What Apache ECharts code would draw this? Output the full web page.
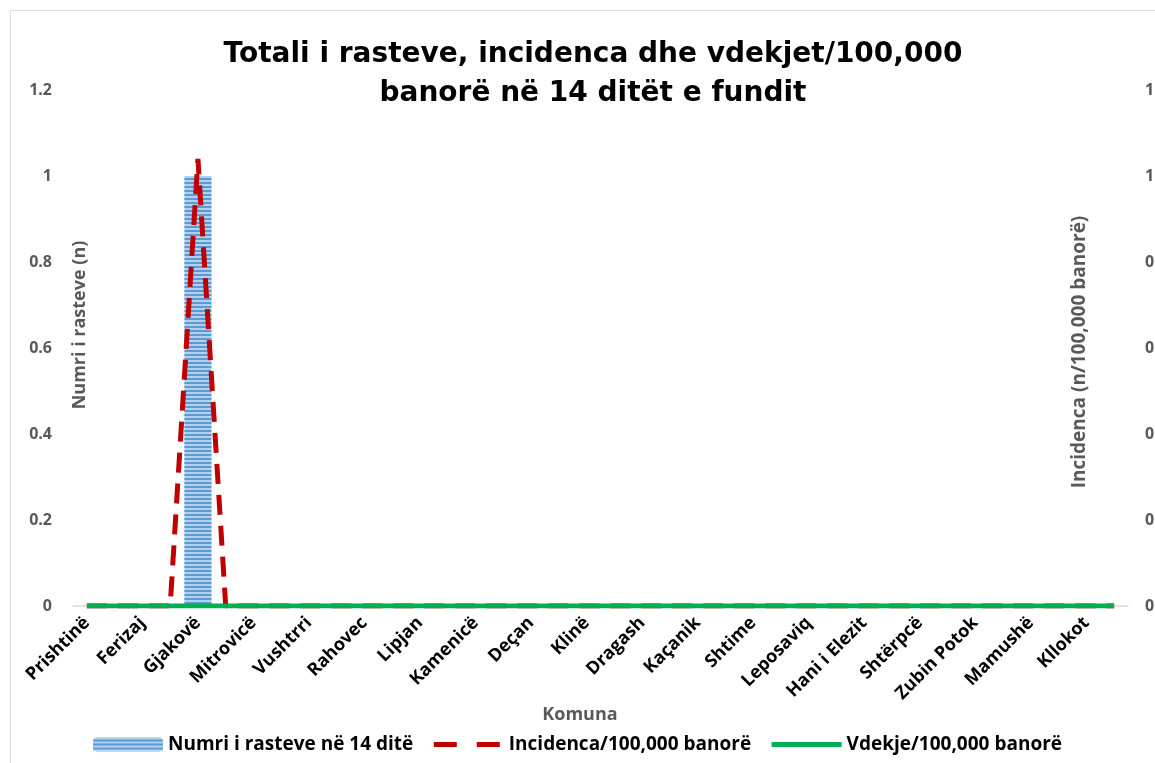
<!DOCTYPE html>
<html>
<head>
<meta charset="utf-8">
<script src="https://cdn.jsdelivr.net/npm/echarts@6/dist/echarts.min.js"></script>
<style>
  html, body { margin: 0; padding: 0; background: #fff; }
  #chart { width: 1155px; height: 763px; }
</style>
</head>
<body>
<div id="chart"></div>
<script>
// komunat (38), radha si ne grafik
const komunat = [
  'Prishtinë', 'Prizren', 'Ferizaj', 'Pejë', 'Gjakovë', 'Gjilan', 'Mitrovicë', 'Podujevë',
  'Vushtrri', 'Suharekë', 'Rahovec', 'Drenas', 'Lipjan', 'Malishevë', 'Kamenicë', 'Viti',
  'Deçan', 'Istog', 'Klinë', 'Skenderaj', 'Dragash', 'Fushë Kosovë', 'Kaçanik', 'Mitrovicë e Veriut',
  'Shtime', 'Obiliq', 'Leposaviq', 'Graçanicë', 'Hani i Elezit', 'Zveçan', 'Shtërpcë', 'Novobërdë',
  'Zubin Potok', 'Junik', 'Mamushë', 'Ranillug', 'Kllokot', 'Partesh'
]

const rastet = [
  0, 0, 0, 0, 1, 0, 0, 0, 0, 0, 0, 0, 0, 0, 0, 0, 0, 0, 0,
  0, 0, 0, 0, 0, 0, 0, 0, 0, 0, 0, 0, 0, 0, 0, 0, 0, 0, 0
]
const incidenca = [
  0, 0, 0, 0, 1.04, 0, 0, 0, 0, 0, 0, 0, 0, 0, 0, 0, 0, 0, 0,
  0, 0, 0, 0, 0, 0, 0, 0, 0, 0, 0, 0, 0, 0, 0, 0, 0, 0, 0
]
const vdekje = [
  0, 0, 0, 0, 0, 0, 0, 0, 0, 0, 0, 0, 0, 0, 0, 0, 0, 0, 0,
  0, 0, 0, 0, 0, 0, 0, 0, 0, 0, 0, 0, 0, 0, 0, 0, 0, 0, 0
]

// mbushja me vija per shtyllat
const makeStripes = () => {
  const c = document.createElement('canvas')
  c.width = 8
  c.height = 4
  const ctx = c.getContext('2d')
  ctx.fillStyle = '#b3d1ee'
  ctx.fillRect(0, 0, 8, 4)
  ctx.fillStyle = '#5b9bd5'
  ctx.fillRect(0, 2, 8, 2)
  return c
}
const stripes = makeStripes()

const fontFam = '"Open Sans", "Noto Sans", sans-serif'
const gray = '#595959'

const myChart = echarts.init(document.getElementById('chart'))
const option = {
  animation: false,
  backgroundColor: '#fff',
  textStyle: { fontFamily: fontFam },
  title: {
    text: 'Totali i rasteve, incidenca dhe vdekjet/100,000\nbanorë në 14 ditët e fundit',
    left: 588,
    textAlign: 'center',
    top: 30,
    textStyle: {
      fontFamily: '"DejaVu Sans", sans-serif',
      fontSize: 28,
      fontWeight: 'bold',
      color: '#000',
      lineHeight: 39
    }
  },
  legend: {
    left: 'center',
    bottom: 4,
    itemWidth: 70,
    itemHeight: 14,
    itemGap: 18,
    textStyle: { fontSize: 19, fontWeight: 'bold', color: '#000' },
    data: [
      { name: 'Numri i rasteve në 14 ditë' },
      { name: 'Incidenca/100,000 banorë', itemStyle: { opacity: 0 }, lineStyle: { type: [23, 20], width: 5 } },
      { name: 'Vdekje/100,000 banorë', itemStyle: { opacity: 0 }, lineStyle: { width: 5 } }
    ]
  },
  grid: { left: 73, right: 27, top: 90, bottom: 157, outerBoundsMode: 'none' },
  xAxis: {
    type: 'category',
    data: komunat,
    axisLine: { lineStyle: { color: '#d9d9d9', width: 1.5 } },
    axisTick: { show: false },
    axisLabel: {
      interval: 1,
      rotate: 45,
      margin: 14,
      fontSize: 18,
      fontWeight: 'bold',
      color: '#000'
    }
  },
  yAxis: [
    {
      type: 'value',
      min: 0,
      max: 1.2,
      interval: 0.2,
      splitLine: { show: false },
      axisLine: { show: false },
      axisLabel: { margin: 21, fontSize: 16, fontWeight: 'bold', color: gray }
    },
    {
      type: 'value',
      min: 0,
      max: 1.2,
      interval: 0.2,
      splitLine: { show: false },
      axisLine: { show: false },
      axisLabel: { margin: 17, fontSize: 16, fontWeight: 'bold', color: gray, align: 'left' }
    }
  ],
  graphic: [
    {
      type: 'rect',
      silent: true,
      shape: { x: 10.5, y: 10.5, width: 1300, height: 900 },
      style: { fill: null, stroke: '#d9d9d9', lineWidth: 1 }
    },
    {
      type: 'text',
      x: 80, y: 325, rotation: Math.PI / 2,
      style: {
        text: 'Numri i rasteve (n)', fill: gray, font: 'bold 18px ' + fontFam,
        align: 'center', verticalAlign: 'middle'
      }
    },
    {
      type: 'text',
      x: 1080, y: 352, rotation: Math.PI / 2,
      style: {
        text: 'Incidenca (n/100,000 banorë)', fill: gray, font: 'bold 19px ' + fontFam,
        align: 'center', verticalAlign: 'middle'
      }
    },
    {
      type: 'text',
      x: 580, y: 715,
      style: {
        text: 'Komuna', fill: gray, font: 'bold 18px ' + fontFam,
        align: 'center', verticalAlign: 'middle'
      }
    }
  ],
  series: [
    {
      name: 'Numri i rasteve në 14 ditë',
      type: 'bar',
      data: rastet,
      barCategoryGap: '2%',
      itemStyle: { color: { image: stripes, repeat: 'repeat' } }
    },
    {
      name: 'Incidenca/100,000 banorë',
      type: 'line',
      yAxisIndex: 1,
      data: incidenca,
      symbol: 'none',
      z: 3,
      lineStyle: { color: '#c00000', width: 5, type: [20, 11] },
      itemStyle: { color: '#c00000' }
    },
    {
      name: 'Vdekje/100,000 banorë',
      type: 'line',
      data: vdekje,
      symbol: 'none',
      z: 4,
      lineStyle: { color: '#00b050', width: 5 },
      itemStyle: { color: '#00b050' }
    }
  ]
}
myChart.setOption(option)
</script>
</body>
</html>
